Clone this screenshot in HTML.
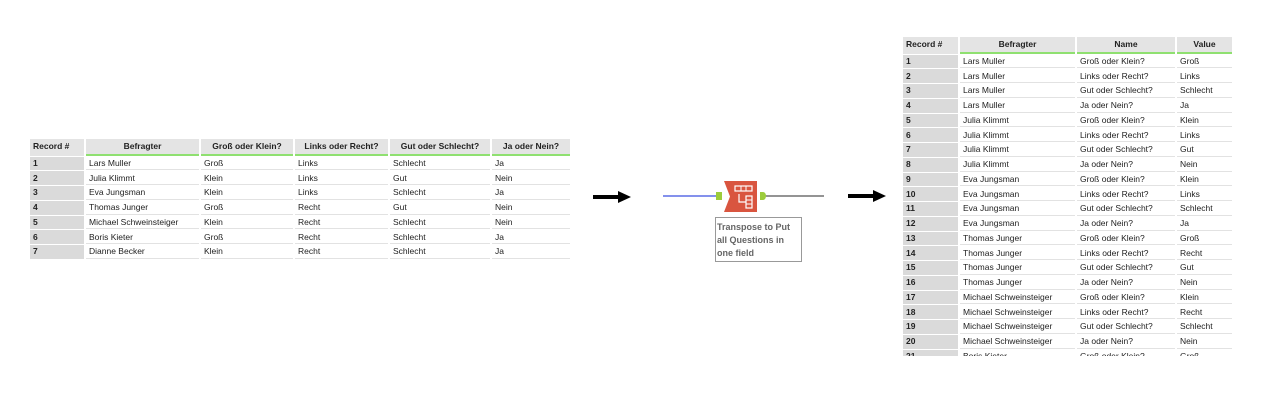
<!DOCTYPE html>
<html><head><meta charset="utf-8"><style>
body{margin:0;width:1269px;height:400px;background:#fff;position:relative;overflow:hidden;font-family:"Liberation Sans",sans-serif;}
.t{position:absolute;border-collapse:separate;border-spacing:2px 1px;font-size:8.5px;color:#222;table-layout:fixed;}
.t th{background:#e4e4e4;font-weight:bold;height:14.5px;padding:0 3px;border-bottom:2px solid #8fe070;text-align:center;white-space:nowrap;overflow:hidden}
.t th:first-child{text-align:left;border-bottom:2px solid #e4e4e4}
.t td{height:12.75px;padding:0 3px;border-bottom:1px solid #e2e2e2;white-space:nowrap;overflow:hidden;background:#fff}
.t td:first-child{background:#dadada;font-weight:bold;border-bottom:1px solid #dadada}
</style></head><body>
<table class="t" style="left:28px;top:138px;width:544px">
<colgroup><col style="width:54px"><col style="width:113px"><col style="width:92px"><col style="width:93px"><col style="width:100px"><col style="width:78px"></colgroup>
<tr><th>Record #</th><th>Befragter</th><th>Groß oder Klein?</th><th>Links oder Recht?</th><th>Gut oder Schlecht?</th><th>Ja oder Nein?</th></tr>
<tr><td>1</td><td>Lars Muller</td><td>Groß</td><td>Links</td><td>Schlecht</td><td>Ja</td></tr>
<tr><td>2</td><td>Julia Klimmt</td><td>Klein</td><td>Links</td><td>Gut</td><td>Nein</td></tr>
<tr><td>3</td><td>Eva Jungsman</td><td>Klein</td><td>Links</td><td>Schlecht</td><td>Ja</td></tr>
<tr><td>4</td><td>Thomas Junger</td><td>Groß</td><td>Recht</td><td>Gut</td><td>Nein</td></tr>
<tr><td>5</td><td>Michael Schweinsteiger</td><td>Klein</td><td>Recht</td><td>Schlecht</td><td>Nein</td></tr>
<tr><td>6</td><td>Boris Kieter</td><td>Groß</td><td>Recht</td><td>Schlecht</td><td>Ja</td></tr>
<tr><td>7</td><td>Dianne Becker</td><td>Klein</td><td>Recht</td><td>Schlecht</td><td>Ja</td></tr>
</table>

<svg width="1269" height="400" style="position:absolute;left:0;top:0">
<line x1="593" y1="197" x2="620" y2="197" stroke="#000" stroke-width="4"/>
<polygon points="618,191 631,197 618,203" fill="#000"/>
<line x1="848" y1="196" x2="875" y2="196" stroke="#000" stroke-width="4"/>
<polygon points="873,190 886,196 873,202" fill="#000"/>
<line x1="663" y1="196" x2="717" y2="196" stroke="#3b4fe0" stroke-width="1.3"/>
<line x1="765" y1="196" x2="824" y2="196" stroke="#555" stroke-width="1.3"/>
<rect x="716" y="192" width="6" height="8" fill="#9ccc3c"/>
<path d="M760,192 h3 a3,4 0 0 1 0,8 h-3 z" fill="#9ccc3c"/>
<polygon points="724,181 757,181 757,212 724,212 730,196.5" fill="#d9553f"/>
<rect x="735" y="186" width="17" height="5" fill="none" stroke="#fff" stroke-width="1.2"/>
<line x1="741" y1="186" x2="741" y2="191" stroke="#fff"/><line x1="746" y1="186" x2="746" y2="191" stroke="#fff"/>
<path d="M739,194 v8 h7" fill="none" stroke="#fff" stroke-width="1.2"/>
<rect x="746" y="196" width="6" height="12" fill="none" stroke="#fff" stroke-width="1.2"/>
<line x1="746" y1="200" x2="752" y2="200" stroke="#fff"/><line x1="746" y1="204" x2="752" y2="204" stroke="#fff"/>
<rect x="715.5" y="217.5" width="86" height="44" fill="#fff" stroke="#999"/>
<text font-family="Liberation Sans,sans-serif" font-size="9" font-weight="bold" fill="#666"><tspan x="717" y="230">Transpose to Put</tspan><tspan x="717" y="243">all Questions in</tspan><tspan x="717" y="256">one field</tspan></text>
</svg>

<div style="position:absolute;left:901px;top:36px;width:333px;height:320px;overflow:hidden">
<table class="t" style="left:0;top:0;width:333px">
<colgroup><col style="width:55px"><col style="width:115px"><col style="width:98px"><col style="width:55px"></colgroup>
<tr><th>Record #</th><th>Befragter</th><th>Name</th><th>Value</th></tr>
<tr><td>1</td><td>Lars Muller</td><td>Groß oder Klein?</td><td>Groß</td></tr>
<tr><td>2</td><td>Lars Muller</td><td>Links oder Recht?</td><td>Links</td></tr>
<tr><td>3</td><td>Lars Muller</td><td>Gut oder Schlecht?</td><td>Schlecht</td></tr>
<tr><td>4</td><td>Lars Muller</td><td>Ja oder Nein?</td><td>Ja</td></tr>
<tr><td>5</td><td>Julia Klimmt</td><td>Groß oder Klein?</td><td>Klein</td></tr>
<tr><td>6</td><td>Julia Klimmt</td><td>Links oder Recht?</td><td>Links</td></tr>
<tr><td>7</td><td>Julia Klimmt</td><td>Gut oder Schlecht?</td><td>Gut</td></tr>
<tr><td>8</td><td>Julia Klimmt</td><td>Ja oder Nein?</td><td>Nein</td></tr>
<tr><td>9</td><td>Eva Jungsman</td><td>Groß oder Klein?</td><td>Klein</td></tr>
<tr><td>10</td><td>Eva Jungsman</td><td>Links oder Recht?</td><td>Links</td></tr>
<tr><td>11</td><td>Eva Jungsman</td><td>Gut oder Schlecht?</td><td>Schlecht</td></tr>
<tr><td>12</td><td>Eva Jungsman</td><td>Ja oder Nein?</td><td>Ja</td></tr>
<tr><td>13</td><td>Thomas Junger</td><td>Groß oder Klein?</td><td>Groß</td></tr>
<tr><td>14</td><td>Thomas Junger</td><td>Links oder Recht?</td><td>Recht</td></tr>
<tr><td>15</td><td>Thomas Junger</td><td>Gut oder Schlecht?</td><td>Gut</td></tr>
<tr><td>16</td><td>Thomas Junger</td><td>Ja oder Nein?</td><td>Nein</td></tr>
<tr><td>17</td><td>Michael Schweinsteiger</td><td>Groß oder Klein?</td><td>Klein</td></tr>
<tr><td>18</td><td>Michael Schweinsteiger</td><td>Links oder Recht?</td><td>Recht</td></tr>
<tr><td>19</td><td>Michael Schweinsteiger</td><td>Gut oder Schlecht?</td><td>Schlecht</td></tr>
<tr><td>20</td><td>Michael Schweinsteiger</td><td>Ja oder Nein?</td><td>Nein</td></tr>
<tr><td>21</td><td>Boris Kieter</td><td>Groß oder Klein?</td><td>Groß</td></tr>
</table>
</div>
</body></html>
